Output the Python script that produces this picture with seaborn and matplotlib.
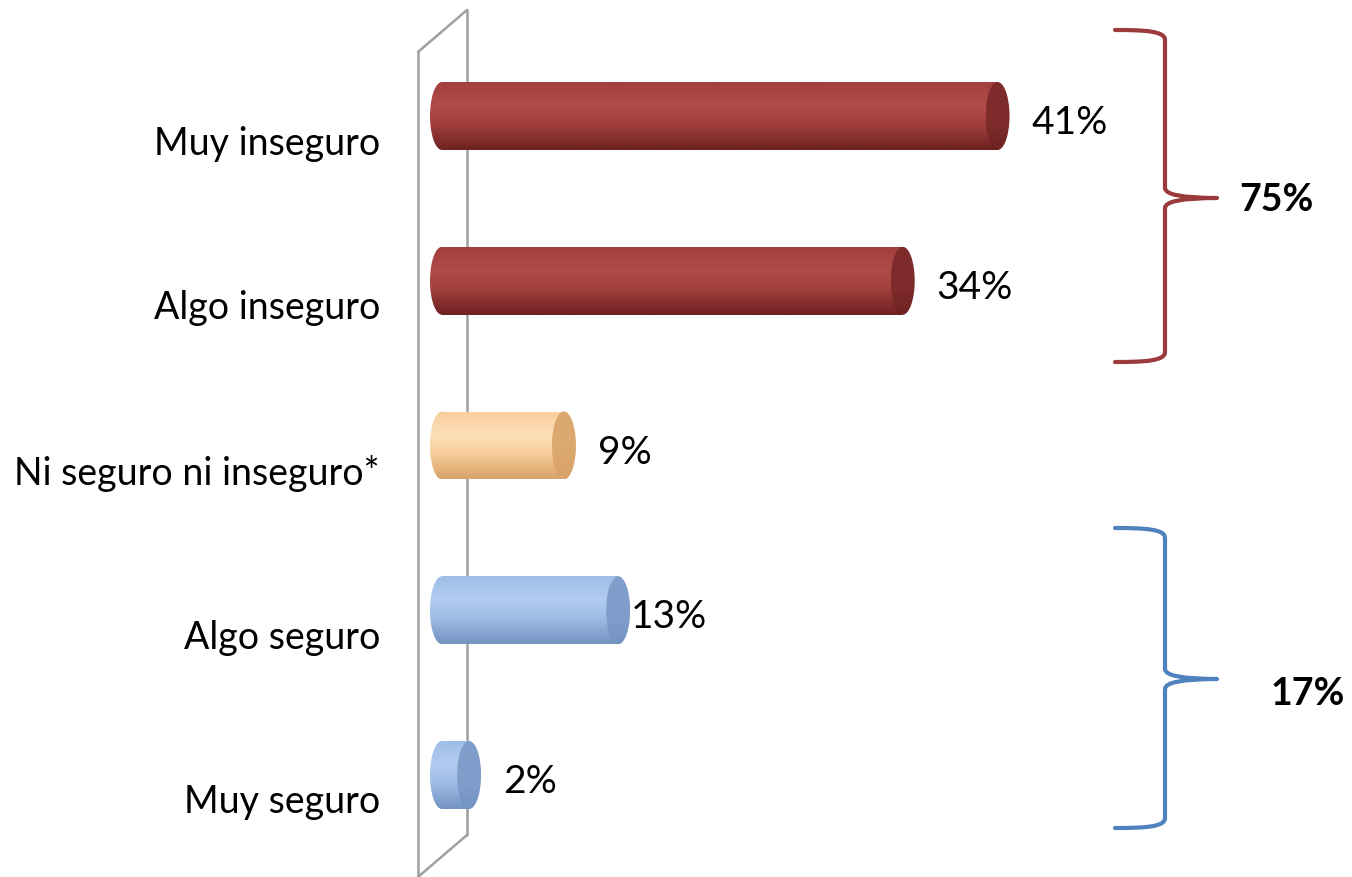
import numpy as np
import pandas as pd
import matplotlib
matplotlib.use("Agg")
import matplotlib.pyplot as plt
import seaborn as sns
from matplotlib.patches import Ellipse, PathPatch
from matplotlib.path import Path
from matplotlib.colors import to_rgb
from matplotlib.transforms import ScaledTranslation

# ---------------- data ----------------
categories = ["Muy inseguro", "Algo inseguro", "Ni seguro ni inseguro*", "Algo seguro", "Muy seguro"]
values = [41, 34, 9, 13, 2]
value_labels = ["41%", "34%", "9%", "13%", "2%"]
group_labels = ["75%", "17%"]

# ---------------- style ----------------
W, H, DPI = 1352, 877, 100
FONT = "Lato"
body_colors = ["#a3403e", "#a3403e", "#f9cf9c", "#9fbde6", "#9fbde6"]
dark_colors = ["#6f2222", "#6f2222", "#d9a36a", "#7393c2", "#7393c2"]
light_colors = ["#b04c4a", "#b04c4a", "#fde0b8", "#b3cdf1", "#b3cdf1"]
cap_colors = ["#7e2b2b", "#7e2b2b", "#dba86f", "#809ecb", "#809ecb"]
red_brace = "#9b3a3a"
blue_brace = "#4f81bd"
wall_color = "#a0a0a0"

sns.set_theme(style="white")
plt.rcParams["font.family"] = [FONT, "DejaVu Sans"]

fig = plt.figure(figsize=(W / DPI, H / DPI), dpi=DPI)
fig.patch.set_facecolor("white")
ax = fig.add_axes([400 / W, 0, (W - 400) / W, 1])
ax.set_facecolor("none")

px_per_unit = 13.55
x_zero_px = 442
row_px = 164.75
first_row_px = 116
cap_px = 12

df = pd.DataFrame({"cat": categories, "val": values})
sns.barplot(data=df, x="val", y="cat", hue="cat", palette=body_colors, orient="h",
            width=68 / row_px, saturation=1, legend=False, ax=ax, zorder=3)

xlim = ((400 - x_zero_px) / px_per_unit, (W - x_zero_px) / px_per_unit)
ylim = ((H - first_row_px) / row_px, (0 - first_row_px) / row_px)

a = cap_px / px_per_unit  # half-width of elliptical cap in data units


def gradient(top, mid, bot, light, n=64):
    t = np.linspace(0, 1, n)
    top, mid, bot, light = map(np.array, map(to_rgb, (top, mid, bot, light)))
    cols = np.zeros((n, 1, 3))
    for i, tt in enumerate(t):
        if tt < 0.35:
            s = tt / 0.35
            c = top * (1 - s) + light * s
        elif tt < 0.6:
            s = (tt - 0.35) / 0.25
            c = light * (1 - s) + mid * s
        else:
            s = (tt - 0.6) / 0.4
            c = mid * (1 - s) + bot * s
        cols[i, 0] = c
    return cols


patches = list(ax.patches)
for i, p in enumerate(patches):
    x0, y0, w, h = p.get_x(), p.get_y(), p.get_width(), p.get_height()
    p.set_edgecolor("none")
    grad = gradient(body_colors[i], body_colors[i], dark_colors[i], light_colors[i])
    im = ax.imshow(grad, extent=[x0 - a, x0 + w, y0 + h, y0], aspect="auto",
                   origin="upper", interpolation="bilinear", zorder=4)
    im.set_clip_path(p)
    # left rounded end
    le = Ellipse((x0, y0 + h / 2), 2 * a, h, facecolor="none", edgecolor="none", zorder=4)
    ax.add_patch(le)
    im2 = ax.imshow(grad, extent=[x0 - a, x0 + a, y0 + h, y0], aspect="auto",
                    origin="upper", interpolation="bilinear", zorder=4)
    im2.set_clip_path(le)
    # right cap
    re_ = Ellipse((x0 + w, y0 + h / 2), 2 * a, h, facecolor="none", edgecolor="none", zorder=5)
    ax.add_patch(re_)
    capg = gradient(cap_colors[i], cap_colors[i], dark_colors[i], cap_colors[i])
    im3 = ax.imshow(capg, extent=[x0 + w - a, x0 + w + a, y0 + h, y0], aspect="auto",
                    origin="upper", interpolation="bilinear", zorder=5)
    im3.set_clip_path(re_)

ax.set_xlim(*xlim)
ax.set_ylim(*ylim)
ax.set_xlabel("")
ax.set_ylabel("")
ax.set_xticks([])
for s in ax.spines.values():
    s.set_visible(False)

ax.tick_params(axis="y", length=0, pad=20 * 0.72, labelsize=27, labelcolor="black")
shift = ScaledTranslation(0, -24 / DPI, fig.dpi_scale_trans)
for lab in ax.get_yticklabels():
    lab.set_transform(lab.get_transform() + shift)
    lab.set_fontfamily([FONT, "DejaVu Sans"])

# value labels
label_offsets_px = [34, 34, 34, 13, 34]
for i, (v, t) in enumerate(zip(values, value_labels)):
    ax.annotate(t, xy=(v, i), xytext=(label_offsets_px[i] * 0.72, -7 * 0.72),
                textcoords="offset points", ha="left", va="center",
                fontsize=28, color="black", zorder=6)

# 3-D wall (decoration, in figure pixel coordinates)
def fp(x, y):
    return x / W, 1 - y / H

wall = [((418, 52), (418, 877)), ((467, 10), (467, 835)),
        ((418, 52), (467, 10)), ((467, 835), (418, 877))]
for (xa, ya), (xb, yb) in wall:
    (fa, ga), (fb, gb) = fp(xa, ya), fp(xb, yb)
    ax.plot([fa, fb], [ga, gb], transform=fig.transFigure, color=wall_color,
            lw=1.8, zorder=1, clip_on=False)


def brace(x_arm, x_spine, x_tip, y_top, y_mid, y_bot, color):
    r = 10
    verts = [
        (x_arm, y_top),
        (x_arm + 0.6 * (x_spine - x_arm), y_top), (x_spine, y_top + 1), (x_spine, y_top + r),
        (x_spine, y_mid - r),
        (x_spine, y_mid), (x_tip, y_mid),
        (x_spine, y_mid), (x_spine, y_mid + r),
        (x_spine, y_bot - r),
        (x_spine, y_bot - 1), (x_arm + 0.6 * (x_spine - x_arm), y_bot), (x_arm, y_bot),
    ]
    codes = [Path.MOVETO,
             Path.CURVE4, Path.CURVE4, Path.CURVE4,
             Path.LINETO,
             Path.CURVE3, Path.CURVE3,
             Path.CURVE3, Path.CURVE3,
             Path.LINETO,
             Path.CURVE4, Path.CURVE4, Path.CURVE4]
    path = Path([fp(x, y) for x, y in verts], codes)
    fig.add_artist(PathPatch(path, transform=fig.transFigure, facecolor="none",
                             edgecolor=color, lw=3.0, capstyle="round", joinstyle="round"))


brace(1115, 1165, 1217, 30, 198, 362, red_brace)
brace(1115, 1165, 1217, 528, 679, 828, blue_brace)

fig.text(*fp(1276, 200), group_labels[0], ha="center", va="center", fontsize=27,
         fontweight="bold", color="black")
fig.text(*fp(1308, 694), group_labels[1], ha="center", va="center", fontsize=27,
         fontweight="bold", color="black")

fig.savefig("out.png", dpi=DPI, facecolor="white")
